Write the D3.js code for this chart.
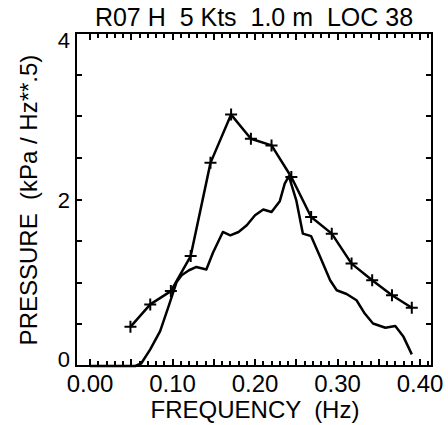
<!DOCTYPE html>
<html><head><meta charset="utf-8">
<script src="https://cdn.jsdelivr.net/npm/d3@7"></script>
<style>body{margin:0;background:#fff}svg{display:block}text{font-family:"Liberation Sans",Arial,Helvetica,sans-serif;fill:#000}</style>
</head><body><svg id="c" width="448" height="425"></svg>
<script>
const title = "R07 H  5 Kts  1.0 m  LOC 38";
const xLabel = "FREQUENCY  (Hz)";
const yLabel = "PRESSURE  (kPa / Hz**.5)";
const xTicks = [0.0, 0.1, 0.2, 0.3, 0.4];
const yTicks = [0, 2, 4];
// marked series (+)
const markFreq = [0.049, 0.073, 0.098, 0.122, 0.146, 0.171, 0.195, 0.220, 0.244, 0.268, 0.293, 0.317, 0.342, 0.366, 0.390];
const markVal  = [0.47, 0.74, 0.90, 1.32, 2.44, 3.02, 2.73, 2.65, 2.27, 1.79, 1.59, 1.23, 1.03, 0.85, 0.70];
// unmarked series
const curveFreq = [0.000, 0.055, 0.062, 0.073, 0.085, 0.095, 0.105, 0.111, 0.120, 0.129, 0.141, 0.149, 0.161, 0.170, 0.180, 0.190, 0.200, 0.210, 0.220, 0.230, 0.236, 0.241, 0.250, 0.258, 0.268, 0.279, 0.291, 0.299, 0.311, 0.323, 0.333, 0.343, 0.358, 0.370, 0.380, 0.390];
const curveVal  = [0, 0, 0.03, 0.20, 0.42, 0.71, 1.01, 1.09, 1.15, 1.19, 1.16, 1.36, 1.61, 1.57, 1.61, 1.69, 1.81, 1.88, 1.85, 1.98, 2.19, 2.28, 1.99, 1.59, 1.56, 1.31, 1.03, 0.91, 0.865, 0.79, 0.63, 0.51, 0.46, 0.48, 0.35, 0.14];

const L = 76, R = 432, T = 33, B = 366;
const svg = d3.select("#c");
const x = d3.scaleLinear().domain([-0.017, 0.4145]).range([L, R]);
const y = d3.scaleLinear().domain([0, 4]).range([B, T]);

const xMinor = d3.range(0, 42).map(i => i / 100);
const yMinor = d3.range(0, 9).map(i => i / 2);
const tlen = d => (Math.round(d * 100) % 5 === 0 ? 7 : 5);

// tick marks (inward)
svg.append("g").selectAll("rect").data(xMinor).join("rect")
  .attr("x", d => Math.round(x(d)) - 1).attr("y", d => B - tlen(d))
  .attr("width", 2).attr("height", tlen).attr("fill", "#000");
svg.append("g").selectAll("rect").data(xMinor).join("rect")
  .attr("x", d => Math.round(x(d)) - 1).attr("y", T)
  .attr("width", 2).attr("height", tlen).attr("fill", "#000");
svg.append("g").selectAll("rect").data(yMinor).join("rect")
  .attr("x", L).attr("y", d => Math.round(y(d)) - 1).attr("width", 6).attr("height", 2).attr("fill", "#000");
svg.append("g").selectAll("rect").data(yMinor).join("rect")
  .attr("x", R - 6).attr("y", d => Math.round(y(d)) - 1).attr("width", 6).attr("height", 2).attr("fill", "#000");

// frame
svg.append("rect").attr("x", L).attr("y", T).attr("width", R - L).attr("height", B - T)
  .attr("fill", "none").attr("stroke", "#000").attr("stroke-width", 2);

// tick labels
svg.append("g").selectAll("text").data(xTicks).join("text")
  .attr("x", d => x(d)).attr("y", 392).attr("text-anchor", "middle")
  .attr("font-size", 24).text(d => d3.format(".2f")(d));
svg.append("g").selectAll("text").data(yTicks).join("text")
  .attr("x", 70).attr("y", d => d === 4 ? y(d) + 15 : d === 0 ? y(d) + 1 : y(d) + 8)
  .attr("text-anchor", "end").attr("font-size", 22).text(d => d);

// titles
svg.append("text").attr("x", 254).attr("y", 26).attr("text-anchor", "middle")
  .attr("font-size", 25).style("white-space", "pre").text(title);
svg.append("text").attr("x", 255).attr("y", 418).attr("text-anchor", "middle")
  .attr("font-size", 24).style("white-space", "pre").text(xLabel);
svg.append("text").attr("transform", "translate(37,200) rotate(-90)").attr("text-anchor", "middle")
  .attr("font-size", 24).style("white-space", "pre").text(yLabel);

// lines
const line = d3.line().x(d => x(d[0])).y(d => y(d[1]));
svg.append("path").datum(curveFreq.map((f, i) => [f, curveVal[i]]))
  .attr("d", line).attr("fill", "none").attr("stroke", "#000").attr("stroke-width", 2.5).attr("stroke-linejoin", "round");
const mk = markFreq.map((f, i) => [f, markVal[i]]);
svg.append("path").datum(mk)
  .attr("d", line).attr("fill", "none").attr("stroke", "#000").attr("stroke-width", 2.5).attr("stroke-linejoin", "round");
svg.append("g").selectAll("path").data(mk).join("path")
  .attr("transform", d => `translate(${x(d[0])},${y(d[1])})`)
  .attr("d", "M-6,0H6M0,-6V6")
  .attr("fill", "none").attr("stroke", "#000").attr("stroke-width", 2);
</script></body></html>
